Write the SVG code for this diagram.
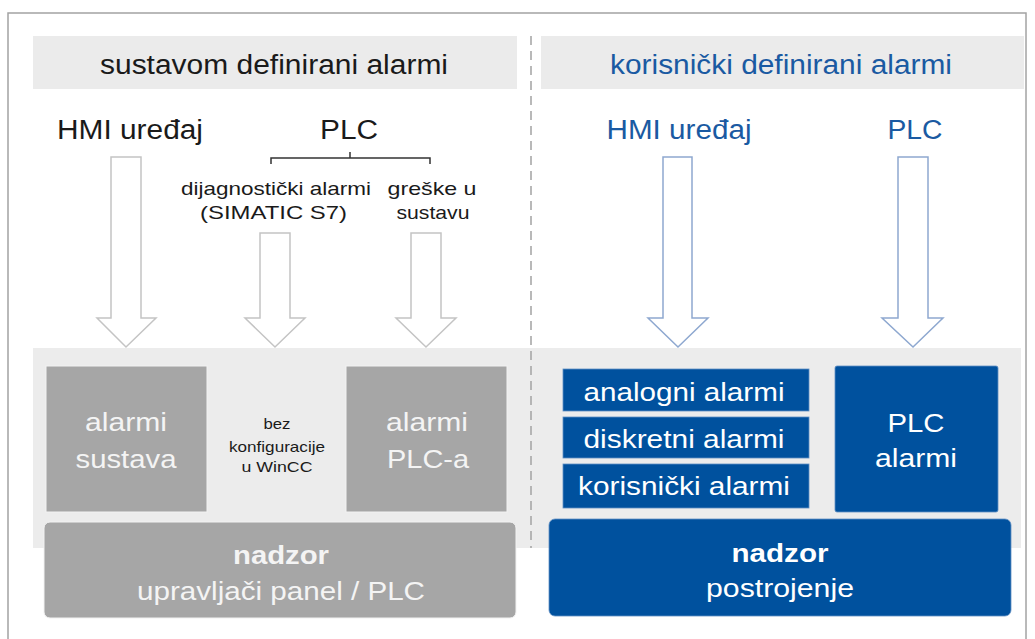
<svg xmlns="http://www.w3.org/2000/svg" width="1035" height="639" viewBox="0 0 1035 639">
<style>
text{font-family:"Liberation Sans",Arial,sans-serif;text-anchor:middle}
.hd{font-size:27px;fill:#1a1a1a}
.bl{fill:#1a5aa2}
.sm{font-size:19px;fill:#1a1a1a}
.xs{font-size:15px;fill:#1a1a1a}
.bx{font-size:25px;fill:#f4f4f4}
.bw{font-size:25px;fill:#ffffff}
.b{font-weight:bold}
.grey{fill:#a6a6a6;stroke:#f2f2f2;stroke-width:1}
.blue{fill:#00519e;stroke:#5f8fc4;stroke-width:0.8}
.arrL{fill:#ffffff;stroke:#c4c4c4;stroke-width:1.5}
.arrR{fill:#ffffff;stroke:#8ea8d0;stroke-width:1.5}
</style>
<rect x="0" y="0" width="1035" height="639" fill="#ffffff"/>
<rect x="8" y="13" width="1018" height="640" fill="none" stroke="#a3a3a3" stroke-width="1.5"/>
<rect x="33" y="36" width="484" height="53" fill="#ebebeb"/>
<rect x="541" y="36" width="483" height="53" fill="#ebebeb"/>
<rect x="33" y="348" width="988" height="200" fill="#ececec"/>
<line x1="531" y1="36" x2="531" y2="548" stroke="#a3a3a3" stroke-width="1.5" stroke-dasharray="9,6"/>

<g id="headers">
<text class="hd" x="274" y="74" textLength="348" lengthAdjust="spacingAndGlyphs">sustavom definirani alarmi</text>
<text class="hd bl" x="781" y="74" textLength="342" lengthAdjust="spacingAndGlyphs">korisnički definirani alarmi</text>
</g>

<g id="src-hmi-left"><text class="hd" x="130" y="139" textLength="146" lengthAdjust="spacingAndGlyphs">HMI uređaj</text></g>
<g id="src-plc-left"><text class="hd" x="349" y="139" textLength="58" lengthAdjust="spacingAndGlyphs">PLC</text>
<path d="M271,164 V158 H430 V164 M350,158 V152" fill="none" stroke="#333333" stroke-width="1.5"/></g>
<g id="src-diag">
<text class="sm" x="276" y="195" textLength="190" lengthAdjust="spacingAndGlyphs">dijagnostički alarmi</text>
<text class="sm" x="273.5" y="219" textLength="147" lengthAdjust="spacingAndGlyphs">(SIMATIC S7)</text>
</g>
<g id="src-errors">
<text class="sm" x="432" y="195" textLength="89" lengthAdjust="spacingAndGlyphs">greške u</text>
<text class="sm" x="433" y="219" textLength="73" lengthAdjust="spacingAndGlyphs">sustavu</text>
</g>
<g id="src-hmi-right"><text class="hd bl" x="679" y="139" textLength="145" lengthAdjust="spacingAndGlyphs">HMI uređaj</text></g>
<g id="src-plc-right"><text class="hd bl" x="915" y="139" textLength="55" lengthAdjust="spacingAndGlyphs">PLC</text></g>

<g id="connectors">
<path class="arrL" d="M111,157 H141 V318 H156 L126,347 L97,318 H111 Z"/>
<path class="arrL" d="M260,233 H290 V318 H305 L275,347 L245,318 H260 Z"/>
<path class="arrL" d="M411,233 H441 V318 H456 L426,347 L396,318 H411 Z"/>
<path class="arrR" d="M663,157 H692 V318 H708 L678,347 L648,318 H663 Z"/>
<path class="arrR" d="M898,157 H928 V318 H943 L913,347 L882,318 H898 Z"/>
</g>

<g id="alarmi-sustava">
<rect class="grey" x="46" y="366" width="161" height="146"/>
<text class="bx" x="126" y="431" textLength="82" lengthAdjust="spacingAndGlyphs">alarmi</text>
<text class="bx" x="126" y="468" textLength="101" lengthAdjust="spacingAndGlyphs">sustava</text>
</g>
<g id="bez-konfiguracije">
<text class="xs" x="277" y="429" textLength="27" lengthAdjust="spacingAndGlyphs">bez</text>
<text class="xs" x="277" y="452" textLength="96" lengthAdjust="spacingAndGlyphs">konfiguracije</text>
<text class="xs" x="277" y="472" textLength="71" lengthAdjust="spacingAndGlyphs">u WinCC</text>
</g>
<g id="alarmi-plc-a">
<rect class="grey" x="346" y="366" width="161" height="146"/>
<text class="bx" x="427" y="431" textLength="82" lengthAdjust="spacingAndGlyphs">alarmi</text>
<text class="bx" x="428" y="468" textLength="82" lengthAdjust="spacingAndGlyphs">PLC-a</text>
</g>
<g id="nadzor-left">
<rect class="grey" x="44" y="522" width="472" height="96" rx="6"/>
<text class="bx b" x="281" y="564" textLength="96" lengthAdjust="spacingAndGlyphs">nadzor</text>
<text class="bx" x="281" y="600" textLength="288" lengthAdjust="spacingAndGlyphs">upravljači panel / PLC</text>
</g>

<g id="analogni-alarmi">
<rect class="blue" x="563" y="369" width="246" height="42"/>
<text class="bw" x="684" y="401" textLength="201" lengthAdjust="spacingAndGlyphs">analogni alarmi</text>
</g>
<g id="diskretni-alarmi">
<rect class="blue" x="563" y="417" width="246" height="41"/>
<text class="bw" x="684" y="448" textLength="201" lengthAdjust="spacingAndGlyphs">diskretni alarmi</text>
</g>
<g id="korisnicki-alarmi">
<rect class="blue" x="563" y="464" width="246" height="44"/>
<text class="bw" x="684" y="495" textLength="212" lengthAdjust="spacingAndGlyphs">korisnički alarmi</text>
</g>
<g id="plc-alarmi">
<rect class="blue" x="835" y="366" width="163" height="146" rx="2"/>
<text class="bw" x="916" y="432" textLength="57" lengthAdjust="spacingAndGlyphs">PLC</text>
<text class="bw" x="916" y="467" textLength="82" lengthAdjust="spacingAndGlyphs">alarmi</text>
</g>
<g id="nadzor-right">
<rect class="blue" x="549" y="519" width="462" height="97" rx="6"/>
<text class="bw b" x="780" y="562" textLength="97" lengthAdjust="spacingAndGlyphs">nadzor</text>
<text class="bw" x="780" y="597" textLength="148" lengthAdjust="spacingAndGlyphs">postrojenje</text>
</g>
</svg>
